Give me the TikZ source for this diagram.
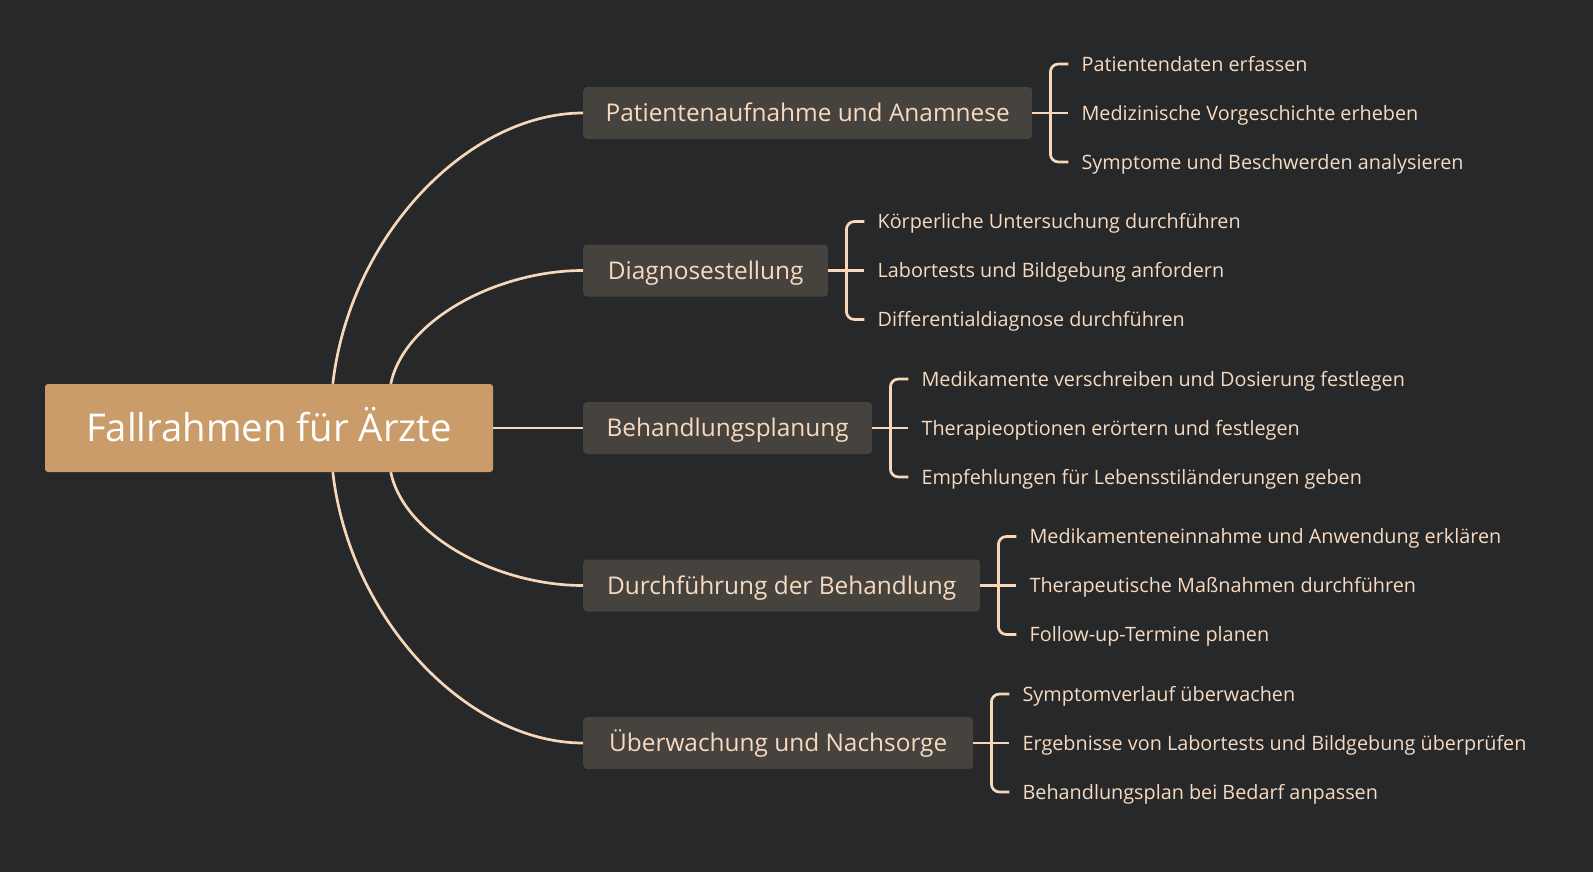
\documentclass[tikz,border=0pt]{standalone}
\usepackage{fontspec}
\setmainfont{Open Sans}
\usetikzlibrary{calc}
\definecolor{bg}{HTML}{27282A}
\definecolor{boxfill}{HTML}{46433E}
\definecolor{rootfill}{HTML}{C99C69}
\definecolor{peach}{HTML}{F7DAC0}
\definecolor{linec}{HTML}{F8D7B8}
\begin{document}
\begin{tikzpicture}[x=1pt,y=-1pt,
  rootbox/.style={fill=rootfill, rounded corners=3pt, minimum width=448pt, minimum height=88pt,
    text=white, font=\fontsize{38.3}{44}\selectfont, inner sep=0pt, text height=27.3pt, text depth=0pt},
  branchbox/.style={fill=boxfill, rounded corners=4pt, minimum height=52pt, anchor=west,
    text=peach, font=\fontsize{24.4}{28}\selectfont, inner sep=0pt, text height=17.4pt, text depth=0pt},
  leaftext/.style={text=peach, font=\fontsize{19.8}{24}\selectfont, inner sep=0pt, anchor=west,
    text height=14.1pt, text depth=0pt},
  conn/.style={draw=linec, line width=2.7pt},
  brk/.style={draw=linec, line width=2.7pt, rounded corners=8pt}
]
\fill[bg] (0,0) rectangle (1593,872);
\useasboundingbox (0,0) rectangle (1593,872);

\node[rootbox] (root) at (269,428) {Fallrahmen für Ärzte};

\node[branchbox, minimum width=449pt] (b1) at (583,113) {Patientenaufnahme und Anamnese};
\node[branchbox, minimum width=245pt] (b2) at (583,270.5) {Diagnosestellung};
\node[branchbox, minimum width=289pt] (b3) at (583,428) {Behandlungsplanung};
\node[branchbox, minimum width=397pt] (b4) at (583,585.5) {Durchführung der Behandlung};
\node[branchbox, minimum width=390pt] (b5) at (583,743) {Überwachung und Nachsorge};

% root connectors
\draw[conn] ([xshift=288pt]root.north west) .. controls +(17,-148) and +(-115,0) .. (b1.west);
\draw[conn] ([xshift=346pt]root.north west) .. controls +(13,-63) and +(-87,0) .. (b2.west);
\draw[conn] (root.east) -- (b3.west);
\draw[conn] ([xshift=346pt]root.south west) .. controls +(13,63) and +(-87,0) .. (b4.west);
\draw[conn] ([xshift=288pt]root.south west) .. controls +(17,148) and +(-115,0) .. (b5.west);

% leaves
\node[leaftext] (l11) at ($(b1.east)+(49,-49)$) {Patientendaten erfassen};
\node[leaftext] (l12) at ($(b1.east)+(49,0)$) {Medizinische Vorgeschichte erheben};
\node[leaftext] (l13) at ($(b1.east)+(49,49)$) {Symptome und Beschwerden analysieren};

\node[leaftext] (l21) at ($(b2.east)+(49,-49)$) {Körperliche Untersuchung durchführen};
\node[leaftext] (l22) at ($(b2.east)+(49,0)$) {Labortests und Bildgebung anfordern};
\node[leaftext] (l23) at ($(b2.east)+(49,49)$) {Differentialdiagnose durchführen};

\node[leaftext] (l31) at ($(b3.east)+(49,-49)$) {Medikamente verschreiben und Dosierung festlegen};
\node[leaftext] (l32) at ($(b3.east)+(49,0)$) {Therapieoptionen erörtern und festlegen};
\node[leaftext] (l33) at ($(b3.east)+(49,49)$) {Empfehlungen für Lebensstiländerungen geben};

\node[leaftext] (l41) at ($(b4.east)+(49,-49)$) {Medikamenteneinnahme und Anwendung erklären};
\node[leaftext] (l42) at ($(b4.east)+(49,0)$) {Therapeutische Maßnahmen durchführen};
\node[leaftext] (l43) at ($(b4.east)+(49,49)$) {Follow-up-Termine planen};

\node[leaftext] (l51) at ($(b5.east)+(49,-49)$) {Symptomverlauf überwachen};
\node[leaftext] (l52) at ($(b5.east)+(49,0)$) {Ergebnisse von Labortests und Bildgebung überprüfen};
\node[leaftext] (l53) at ($(b5.east)+(49,49)$) {Behandlungsplan bei Bedarf anpassen};

% brackets
\foreach \b in {1,...,5}{
  \draw[conn] (b\b.east) -- ([xshift=-13pt]l\b2.west);
  \draw[brk] ([xshift=-13pt]l\b1.west) -- ([xshift=-31pt]l\b1.west) -- ([xshift=-31pt]l\b3.west) -- ([xshift=-13pt]l\b3.west);
}
\end{tikzpicture}
\end{document}
